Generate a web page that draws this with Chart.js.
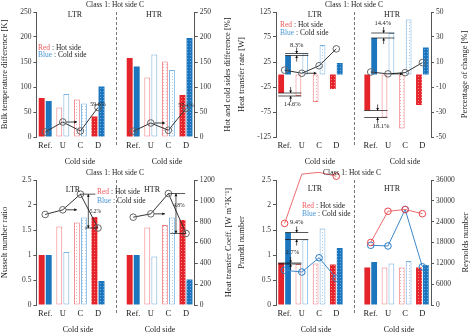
<!DOCTYPE html>
<html>
<head>
<meta charset="utf-8">
<script src="https://cdn.jsdelivr.net/npm/chart.js@4.4.0/dist/chart.umd.min.js"></script>
<style>
  body { margin: 0; background: #fff; }
  .panel { position: absolute; width: 237px; height: 168px; }
</style>
</head>
<body>
<div class="panel" style="left:0;top:0"><canvas id="c1" width="237" height="168"></canvas></div>
<div class="panel" style="left:237px;top:0"><canvas id="c2" width="237" height="168"></canvas></div>
<div class="panel" style="left:0;top:168px"><canvas id="c3" width="237" height="168"></canvas></div>
<div class="panel" style="left:237px;top:168px"><canvas id="c4" width="237" height="168"></canvas></div>
<script>
// categories: LTR group, empty slot, HTR group
var cats = ['Ref.', 'U', 'C', 'D', '', 'Ref.', 'U', 'C', 'D'];

// bulk temperature difference [K] + hot/cold difference [%]
var tempHotLTR = [78, 59, 75, 41];
var tempColdLTR = [72, 86, 67, 101];
var tempHotHTR = [158, 119, 151, 84];
var tempColdHTR = [141, 165, 134, 198];
var tempDiffLTR = [10, 30, 12, 59];
var tempDiffHTR = [11.5, 28, 13.5, 57];
var tempTicks = [0, 50, 100, 150, 200, 250];
var tempDiffTicks = [0, 50, 100, 150, 200, 250];

// heat transfer rate [W] + percentage of change [%]
var qHotLTR = [-37, -43, -55, -29];
var qColdLTR = [38, 42, 59, 23];
var qHotHTR = [-72, -86, -108, -61];
var qColdHTR = [73, 83, 110, 54];
var qChangeLTR = [3.5, 1, 7, 20.5];
var qChangeHTR = [2, 0.5, 1.5, 9.5];
var qTicks = [-125, -75, -25, 25, 75, 125];
var qChangeTicks = [-50, -30, -10, 10, 30, 50];

// Nusselt number ratio + heat transfer coeff.
var nuHotLTR = [1, 1.57, 1.65, 1.76];
var nuColdLTR = [1, 1.06, 1.75, 0.48];
var nuHotHTR = [1, 1.55, 1.6, 1.7];
var nuColdHTR = [1, 0.97, 1.75, 0.51];
var htcLTR = [869, 914, 1064, 739];
var htcHTR = [843, 875, 1070, 687];
var nuTicks = [0, 0.5, 1, 1.5, 2, 2.5];
var htcTicks = [0, 200, 400, 600, 800, 1000, 1200];

// Prandtl number + Reynolds number
var prHotLTR = [0.84, 0.82, 0.83, 0.81];
var prColdLTR = [1.45, 1.31, 1.53, 1.14];
var prHotHTR = [0.75, 0.75, 0.75, 0.75];
var prColdHTR = [0.86, 0.83, 0.88, 0.80];
var reHotLTR = [23500, 37700, 38200, 37100];
var reColdLTR = [10000, 9500, 13600, 7700];
var reHotHTR = [18000, 27000, 27500, 26300];
var reColdHTR = [17200, 17000, 27500, 11000];
var prTicks = [0, 0.5, 1, 1.5, 2, 2.5];
var reTicks = [0, 6000, 12000, 18000, 24000, 30000, 36000];

var SERIF = 'Liberation Serif';
var RED = '#e5232b', BLUE = '#1b76bd';
var RED_LT = '#ef7f83', BLUE_LT = '#7ab3e0';

function join(a, b) { return a.concat([null], b); }

function dots(ctx, bg, dot) {
  var c = document.createElement('canvas');
  c.width = 3; c.height = 3;
  var g = c.getContext('2d');
  g.fillStyle = bg; g.fillRect(0, 0, 3, 3);
  g.fillStyle = dot; g.fillRect(1, 1, 1, 1);
  return ctx.createPattern(c, 'repeat');
}

function barSet(ctx, vals, hot) {
  var solid = hot ? RED : BLUE, light = hot ? RED_LT : BLUE_LT;
  var bg = [solid, '#ffffff',
    dots(ctx, '#ffffff', hot ? '#f5aeb0' : '#a9cdec'),
    dots(ctx, solid, hot ? '#f7898c' : '#6fa8da')];
  var border = [solid, light, light, solid];
  var bw = [0, 1, 1, 0];
  var k = function (i) { return i < 4 ? i : i - 5; };
  return {
    type: 'bar', data: vals, yAxisID: 'y', order: 2,
    backgroundColor: vals.map(function (v, i) { return bg[k(i)] || 'transparent'; }),
    borderColor: vals.map(function (v, i) { return border[k(i)] || 'transparent'; }),
    borderWidth: vals.map(function (v, i) { return bw[k(i)] || 0; }),
    borderSkipped: false,
    categoryPercentage: 0.8, barPercentage: 0.84
  };
}

function lineSet(vals, color, mark) {
  return {
    type: 'line', data: vals, yAxisID: 'y1', order: 0, clip: false,
    borderColor: color, borderWidth: 1, spanGaps: false,
    pointRadius: 3.3, pointBorderWidth: 1,
    pointBorderColor: mark, pointBackgroundColor: 'rgba(255,255,255,0)'
  };
}

function fmt(v) { return String(v); }

function axis(pos, ticks, w, title) {
  return {
    position: pos, min: ticks[0], max: ticks[ticks.length - 1],
    afterBuildTicks: function (s) { s.ticks = ticks.map(function (v) { return { value: v }; }); },
    afterFit: function (s) { s.width = w; },
    ticks: { font: { family: SERIF, size: 7.5 }, color: '#333', padding: 2, callback: fmt },
    grid: { drawOnChartArea: false, drawTicks: true, tickLength: 3, color: '#555' },
    border: { display: true, color: '#555' },
    title: { display: !!title, text: title, font: { family: SERIF, size: 8.5 }, color: '#222', padding: { top: 0, bottom: 2 } }
  };
}

function arrowHead(c, x, y, dx, dy) {
  var s = 2.6;
  c.beginPath();
  c.moveTo(x, y);
  c.lineTo(x - dx * s - dy * s * 0.55, y - dy * s + dx * s * 0.55);
  c.lineTo(x - dx * s + dy * s * 0.55, y - dy * s - dx * s * 0.55);
  c.closePath();
  c.fill();
}

function smallText(c, t, x, y, size) {
  c.font = (size || 6.5) + 'px "' + SERIF + '"';
  c.textAlign = 'center'; c.textBaseline = 'middle';
  c.fillStyle = '#222';
  c.fillText(t, x, y);
}

// horizontal arrow from a marker toward the next category
function hArrow(chart, a) {
  var c = chart.ctx, xs = chart.scales.x, ys = chart.scales.y1;
  var x0 = xs.getPixelForValue(a.from) + 3.5, x1 = xs.getPixelForValue(a.to), y = ys.getPixelForValue(a.v);
  c.save();
  c.strokeStyle = '#111'; c.fillStyle = '#111'; c.lineWidth = 0.8;
  c.beginPath(); c.moveTo(x0, y); c.lineTo(x1, y); c.stroke();
  arrowHead(c, x1, y, 1, 0);
  c.restore();
}

// two levels with small inward arrows + label (bar tops)
function gap(chart, g) {
  var c = chart.ctx, xs = chart.scales.x, ys = chart.scales[g.axis || 'y'];
  var xa = xs.getPixelForValue(g.at);
  var x0 = xs.getPixelForValue(g.from) + g.off, x1 = xs.getPixelForValue(g.to) + g.off;
  var yA = ys.getPixelForValue(g.a), yB = ys.getPixelForValue(g.b);
  var top = Math.min(yA, yB), bot = Math.max(yA, yB);
  c.save();
  c.strokeStyle = '#111'; c.fillStyle = '#111'; c.lineWidth = 0.7;
  c.beginPath();
  c.moveTo(x0 - 3, yA); c.lineTo(x1 + 3, yA);
  c.moveTo(x0 - 3, yB); c.lineTo(x1 + 3, yB);
  c.moveTo(xa, top - 6); c.lineTo(xa, top);
  c.moveTo(xa, bot + 6); c.lineTo(xa, bot);
  c.stroke();
  arrowHead(c, xa, top, 0, 1);
  arrowHead(c, xa, bot, 0, -1);
  smallText(c, g.text, xs.getPixelForValue(g.tx), ys.getPixelForValue(g.tv), 6.5);
  c.restore();
}

// long vertical span between two marker levels
function span(chart, s) {
  var c = chart.ctx, xs = chart.scales.x, ys = chart.scales.y1;
  var xa = xs.getPixelForValue(s.at);
  var yA = ys.getPixelForValue(s.a), yB = ys.getPixelForValue(s.b);
  c.save();
  c.strokeStyle = '#111'; c.fillStyle = '#111'; c.lineWidth = 0.7;
  c.beginPath();
  c.moveTo(xs.getPixelForValue(s.aFrom), yA); c.lineTo(xs.getPixelForValue(s.aTo), yA);
  c.moveTo(xs.getPixelForValue(s.bFrom), yB); c.lineTo(xs.getPixelForValue(s.bTo), yB);
  c.moveTo(xa, yA); c.lineTo(xa, yB);
  c.stroke();
  arrowHead(c, xa, yA, 0, -1);
  arrowHead(c, xa, yB, 0, 1);
  smallText(c, s.text, xs.getPixelForValue(s.tx), ys.getPixelForValue(s.tv), 5.5);
  c.restore();
}

function decor(chart, o) {
  var c = chart.ctx, xs = chart.scales.x, area = chart.chartArea;
  c.save();
  // separator
  var sx = Math.round((xs.getPixelForValue(3) + xs.getPixelForValue(5)) / 2) + 0.5;
  c.strokeStyle = '#777'; c.lineWidth = 1; c.setLineDash([3, 2]);
  c.beginPath(); c.moveTo(sx, area.top); c.lineTo(sx, area.bottom + 10); c.stroke();
  c.setLineDash([]);
  c.fillStyle = '#222'; c.textBaseline = 'middle'; c.textAlign = 'center';
  // category labels under each group, at the x scale's positions
  c.font = '8.5px "' + SERIF + '"';
  cats.forEach(function (lab, i) { c.fillText(lab, xs.getPixelForValue(i), area.bottom + 8.5); });
  c.font = '7.5px "' + SERIF + '"';
  c.fillText('Class 1: Hot side C', o.pos.title[0], o.pos.title[1]);
  c.font = '8px "' + SERIF + '"';
  c.fillText('LTR', o.pos.ltr[0], o.pos.ltr[1]);
  c.fillText('HTR', o.pos.htr[0], o.pos.htr[1]);
  c.font = '8px "' + SERIF + '"';
  c.fillText('Cold side', o.pos.cold[0], 162);
  c.fillText('Cold side', o.pos.cold[1], 162);
  // legend
  c.textAlign = 'left';
  c.font = '7.5px "' + SERIF + '"';
  var lx = o.pos.leg[0];
  c.fillStyle = '#ee5a5f'; c.fillText('Red', lx, o.pos.leg[1]);
  c.fillStyle = '#222'; c.fillText(' : Hot side', lx + c.measureText('Red').width, o.pos.leg[1]);
  c.fillStyle = '#4a97d6'; c.fillText('Blue', lx, o.pos.leg[2]);
  c.fillStyle = '#222'; c.fillText(' : Cold side', lx + c.measureText('Blue').width, o.pos.leg[2]);
  // right title, reading bottom-to-top like the left one
  c.translate(o.pos.right, (area.top + area.bottom) / 2);
  c.rotate(-Math.PI / 2);
  c.textAlign = 'center';
  c.font = '8.5px "' + SERIF + '"';
  c.fillText(o.rightTitle, 0, 0);
  c.restore();
  (o.arrows || []).forEach(function (a) { hArrow(chart, a); });
  (o.gaps || []).forEach(function (g) { gap(chart, g); });
  (o.spans || []).forEach(function (s) { span(chart, s); });
  (o.notes || []).forEach(function (n) {
    smallText(chart.ctx, n.text, xs.getPixelForValue(n.x), chart.scales.y1.getPixelForValue(n.v), 6);
  });
}

function panel(id, o) {
  var ctx = document.getElementById(id).getContext('2d');
  var sets = [barSet(ctx, o.hot, true), barSet(ctx, o.cold, false)]
    .concat(o.lines.map(function (l) { return lineSet(l.data, l.color, l.mark); }));
  return new Chart(ctx, {
    type: 'bar',
    data: { labels: cats, datasets: sets },
    options: {
      responsive: false, animation: false,
      layout: { padding: { top: 12, left: 0, right: 0, bottom: 31 } },
      plugins: { legend: { display: false }, tooltip: { enabled: false } },
      scales: {
        x: { display: false },
        y: axis('left', o.yTicks, o.leftW, o.leftTitle),
        y1: axis('right', o.y1Ticks, o.rightW, '')
      }
    },
    plugins: [{ id: 'decor', afterDraw: function (chart) { decor(chart, o); } }]
  });
}

panel('c1', {
  hot: join(tempHotLTR, tempHotHTR), cold: join(tempColdLTR, tempColdHTR),
  lines: [{ data: join(tempDiffLTR, tempDiffHTR), color: '#333', mark: '#666' }],
  yTicks: tempTicks, y1Ticks: tempDiffTicks, leftW: 36.4, rightW: 42.2,
  leftTitle: 'Bulk temperature difference [K]', rightTitle: 'Hot and cold sides difference [%]',
  pos: { title: [115, 5], ltr: [75, 15], htr: [154, 15], leg: [38, 48, 55], cold: [80, 167], right: 228 },
  arrows: [{ from: 1, to: 1.8, v: 30 }, { from: 6, to: 6.8, v: 28 }],
  notes: [{ text: '59.6%', x: 3, v: 66 }, { text: '57.1%', x: 8, v: 64 }]
});

panel('c2', {
  hot: join(qHotLTR, qHotHTR), cold: join(qColdLTR, qColdHTR),
  lines: [{ data: join(qChangeLTR, qChangeHTR), color: '#333', mark: '#666' }],
  yTicks: qTicks, y1Ticks: qChangeTicks, leftW: 39, rightW: 43,
  leftTitle: 'Heat transfer rate [W]', rightTitle: 'Percentage of change [%]',
  pos: { title: [117, 5], ltr: [78, 15], htr: [155, 15], leg: [43, 25, 33], cold: [83, 168], right: 228 },
  arrows: [{ from: 1, to: 1.85, v: 1 }, { from: 6, to: 6.85, v: 0.5 }],
  gaps: [
    { a: qColdLTR[0], b: qColdLTR[1], from: 0, to: 1, off: 3.5, at: 0.7, text: '8.3%', tx: 0.7, tv: 58 },
    { a: qHotLTR[0], b: qHotLTR[1], from: 0, to: 1, off: -3.5, at: 0.35, text: '14.6%', tx: 0.45, tv: -60 },
    { a: qColdHTR[0], b: qColdHTR[1], from: 5, to: 6, off: 3.5, at: 5.75, text: '14.4%', tx: 5.7, tv: 103 },
    { a: qHotHTR[0], b: qHotHTR[1], from: 5, to: 6, off: -3.5, at: 5.4, text: '18.1%', tx: 5.6, tv: -103 }
  ]
});

panel('c3', {
  hot: join(nuHotLTR, nuHotHTR), cold: join(nuColdLTR, nuColdHTR),
  lines: [{ data: join(htcLTR, htcHTR), color: '#333', mark: '#666' }],
  yTicks: nuTicks, y1Ticks: htcTicks, leftW: 36.4, rightW: 42.2,
  leftTitle: 'Nusselt number ratio', rightTitle: 'Heat transfer Coeff. [W m\u207B\u00B2K\u207B\u00B9]',
  pos: { title: [115, 5], ltr: [73, 22], htr: [152, 22], leg: [97, 24, 33], cold: [78, 160], right: 229 },
  arrows: [{ from: 1, to: 1.8, v: htcLTR[1] }, { from: 6, to: 6.8, v: htcHTR[1] }],
  spans: [
    { a: htcLTR[2], b: htcLTR[3], aFrom: 2, aTo: 2.85, bFrom: 2.25, bTo: 3, at: 2.45, text: '5.2%', tx: 2.85, tv: 900 },
    { a: htcHTR[2], b: htcHTR[3], aFrom: 7, aTo: 7.95, bFrom: 7.1, bTo: 8, at: 7.43, text: '4.8%', tx: 7.6, tv: 950 }
  ]
});

panel('c4', {
  hot: join(prHotLTR, prHotHTR), cold: join(prColdLTR, prColdHTR),
  lines: [
    { data: join(reHotLTR, reHotHTR), color: '#ec6d71', mark: '#e8474c' },
    { data: join(reColdLTR, reColdHTR), color: '#3c87c9', mark: '#2b7cc4' }
  ],
  yTicks: prTicks, y1Ticks: reTicks, leftW: 39, rightW: 43,
  leftTitle: 'Prandtl number', rightTitle: 'Reynolds number',
  pos: { title: [115, 5], ltr: [78, 21], htr: [155, 21], leg: [65, 38, 46], cold: [79, 162], right: 229 },
  gaps: [
    { a: prColdLTR[0], b: prColdLTR[1], from: 0, to: 1, off: 3.5, at: 0.7, text: '9.4%', tx: 0.7, tv: 1.66 },
    { a: prHotLTR[0], b: prHotLTR[1], from: 0, to: 1, off: -3.5, at: 0.35, text: '2.7%', tx: 0.45, tv: 1.05 }
  ]
});
</script>
</body>
</html>
